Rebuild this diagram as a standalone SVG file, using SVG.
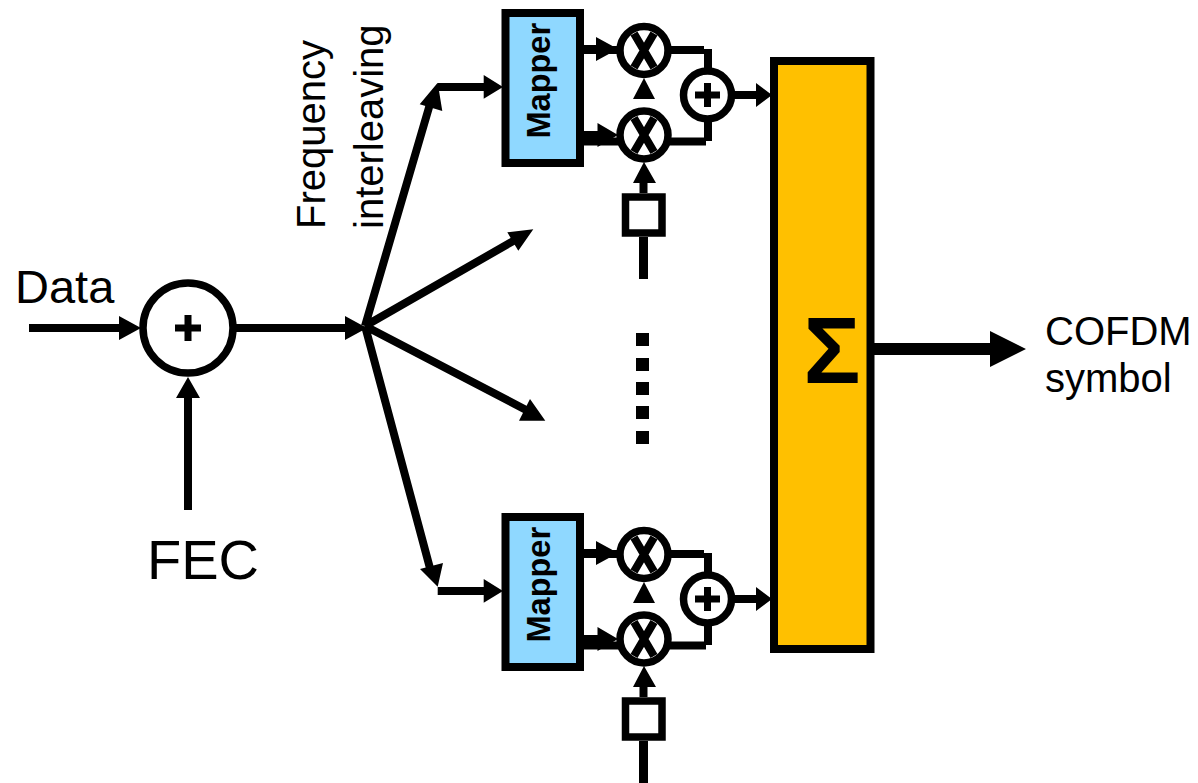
<svg xmlns="http://www.w3.org/2000/svg" width="1198" height="783" viewBox="0 0 1198 783">
<style>
.l{fill:none;stroke:#000;stroke-width:8}
.n{fill:#fff;stroke:#000;stroke-width:7.5}
.x{fill:none;stroke:#000;stroke-width:8}
.t{font-family:"Liberation Sans",Arial,sans-serif;fill:#000}
.h{fill:#000;stroke:none}
</style>
<defs>
<g id="branch">
<path class="l" d="M583 49H600M583 135H600M572 50H704M708 49V71M572 141.500H706M708 119V141M643.500 193V176"/>
<path class="l" d="M643.500 237V279" style="stroke-width:9"/>
<path class="h" d="M596 37L618 49L596 61ZM597.500 123L618 135L597.500 147ZM633 99L644 78L655 99ZM633 183L644 162L656 183ZM756 83L772 95L756 107Z"/>
<path class="l" d="M732 95H760"/>
</g>
</defs>
<g id="connectors">
<path class="l" d="M29 328H122M235 328H348M188 510V392M365 326L430 104M365 326L515 240M365 326L528 411M365 326L431 572M437.700 87H488M437.700 591H488"/>
<path class="l" d="M874 349H994" style="stroke-width:12"/>
<path class="h" d="M119 316L141 328L119 340ZM345 316L367 328L345 340ZM176 398L188 377L200 398ZM419.700 104.300L437.700 82.700L442.300 111ZM507.300 232.300L533.300 229.300L518.300 250.700ZM519 420.700L545.300 420.700L530 399ZM420 569L437.700 586.700L443 563ZM483.700 75L503 87L483.700 98.700ZM483.700 579L503 591L483.700 602.700ZM990 331L1026 349L990 367Z"/>
<use href="#branch"/>
<use href="#branch" y="504"/>
<path class="h" d="M636 333h13v13h-13zM636 358h13v13h-13zM636 382h13v13h-13zM636 406h13v13h-13zM636 431h13v13h-13z"/>
</g>
<g id="adder"><circle class="n" cx="188" cy="328" r="45"/><path class="h" d="M184.500 315h7v9.500h9.500v7h-9.500v9.500h-7v-9.500h-9.500v-7h9.500z"/></g>
<g id="mapper1"><rect x="505.500" y="13" width="74.500" height="150" fill="#8fd8ff" stroke="#000" stroke-width="8"/><text class="t" transform="translate(550 138.500) rotate(-90)" font-size="32.500" font-weight="700">Mapper</text></g>
<g id="mapper2"><rect x="505.500" y="517" width="74.500" height="150" fill="#8fd8ff" stroke="#000" stroke-width="8"/><text class="t" transform="translate(550 642.500) rotate(-90)" font-size="32.500" font-weight="700">Mapper</text></g>
<g id="mix1"><circle class="n" cx="644" cy="50.500" r="24"/><path class="x" d="M634 33.500L654 67.500M654 33.500L634 67.500"/></g>
<g id="mix2"><circle class="n" cx="644" cy="135" r="24"/><path class="x" d="M634 118L654 152M654 118L634 152"/></g>
<g id="mix3"><circle class="n" cx="644" cy="554.500" r="24"/><path class="x" d="M634 537.500L654 571.500M654 537.500L634 571.500"/></g>
<g id="mix4"><circle class="n" cx="644" cy="639" r="24"/><path class="x" d="M634 622L654 656M654 622L634 656"/></g>
<g id="sum1"><circle class="n" cx="707.500" cy="95" r="24"/><path class="h" d="M704 83h7v8.500h9v7h-9v8.500h-7v-8.500h-9v-7h9z"/></g>
<g id="sum2"><circle class="n" cx="707.500" cy="599" r="24"/><path class="h" d="M704 587h7v8.500h9v7h-9v8.500h-7v-8.500h-9v-7h9z"/></g>
<g id="osc1"><rect class="n" x="625.500" y="197" width="36.500" height="36"/></g>
<g id="osc2"><rect class="n" x="625.500" y="701" width="36.500" height="36"/></g>
<g id="combiner"><rect x="774" y="61" width="96.500" height="588" fill="#ffc000" stroke="#000" stroke-width="8"/><text class="t" x="832" y="383" font-size="95" font-weight="700" text-anchor="middle">Σ</text></g>
<g id="labels">
<text class="t" x="15" y="303" font-size="47">Data</text>
<text class="t" x="147" y="579" font-size="56">FEC</text>
<text class="t" transform="translate(325 229) rotate(-90)" font-size="40">Frequency</text>
<text class="t" transform="translate(383 229) rotate(-90)" font-size="40">interleaving</text>
<text class="t" x="1045" y="345" font-size="40">COFDM</text>
<text class="t" x="1045" y="392" font-size="40">symbol</text>
</g>
</svg>
